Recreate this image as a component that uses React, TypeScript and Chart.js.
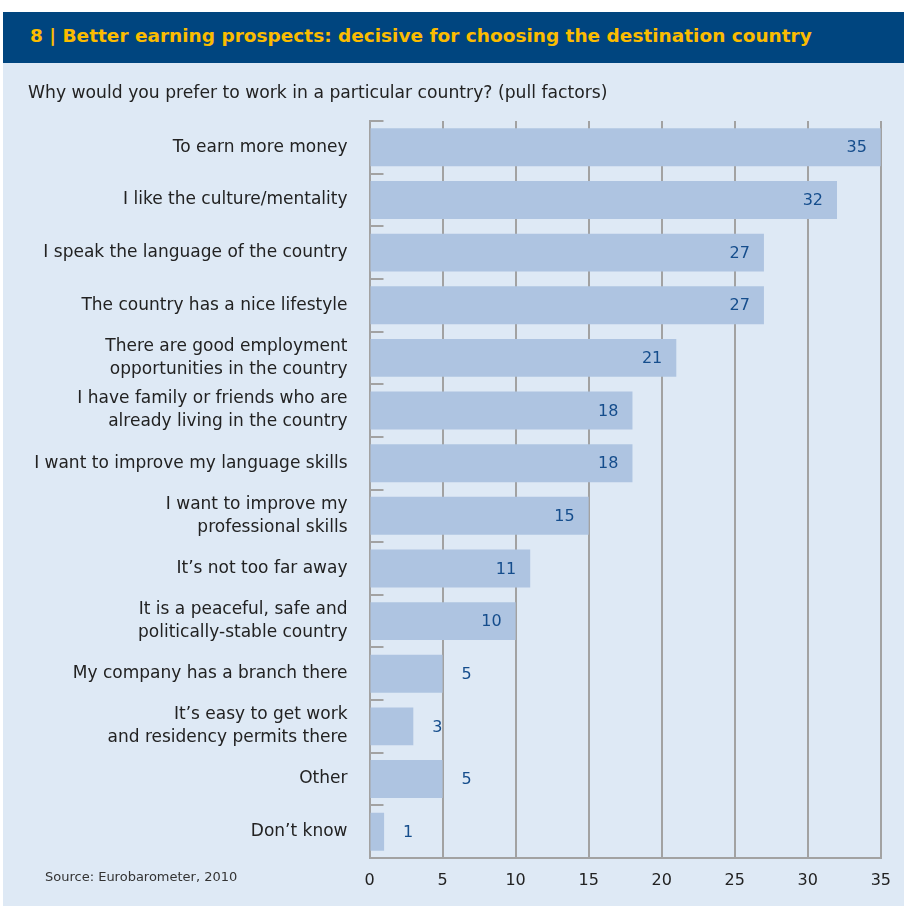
import React, { useEffect, useRef } from "react";
import { Chart, registerables } from "chart.js";

Chart.register(...registerables);

const categories: (string | string[])[] = [
  "To earn more money",
  "I like the culture/mentality",
  "I speak the language of the country",
  "The country has a nice lifestyle",
  ["There are good employment", "opportunities in the country"],
  ["I have family or friends who are", "already living in the country"],
  "I want to improve my language skills",
  ["I want to improve my", "professional skills"],
  "It’s not too far away",
  ["It is a peaceful, safe and", "politically-stable country"],
  "My company has a branch there",
  ["It’s easy to get work", "and residency permits there"],
  "Other",
  "Don’t know",
];

const values: number[] = [35, 32, 27, 27, 21, 18, 18, 15, 11, 10, 5, 3, 5, 1];

const xTicks: number[] = [0, 5, 10, 15, 20, 25, 30, 35];

const titleText = "8 | Better earning prospects: decisive for choosing the destination country";
const subtitleText = "Why would you prefer to work in a particular country? (pull factors)";
const sourceText = "Source: Eurobarometer, 2010";

const BG = "#dee9f5";
const BAR = "#aec4e1";
const GRID = "#a2a2a2";
const LABEL_BLUE = "#154d8c";
const FONT = "'DejaVu Sans', Verdana, sans-serif";

const tickMarksPlugin = {
  id: "tickMarks",
  afterDraw(chart: any) {
    const { ctx, chartArea } = chart;
    const n = categories.length;
    const step = (chartArea.bottom - chartArea.top) / n;
    ctx.save();
    ctx.strokeStyle = GRID;
    ctx.lineWidth = 2;
    for (let i = 0; i < n; i++) {
      const y = Math.round(chartArea.top + i * step);
      ctx.beginPath();
      ctx.moveTo(chartArea.left, y);
      ctx.lineTo(chartArea.left + 14, y);
      ctx.stroke();
    }
    ctx.restore();
  },
};

const valueLabelPlugin = {
  id: "valueLabels",
  afterDatasetsDraw(chart: any) {
    const { ctx } = chart;
    const meta = chart.getDatasetMeta(0);
    ctx.save();
    ctx.font = `16px ${FONT}`;
    ctx.fillStyle = LABEL_BLUE;
    ctx.textBaseline = "middle";
    meta.data.forEach((bar: any, i: number) => {
      const v = values[i];
      if (v >= 10) {
        ctx.textAlign = "right";
        ctx.fillText(String(v), bar.x - 14, bar.y + 1);
      } else {
        ctx.textAlign = "center";
        ctx.fillText(String(v), bar.x + 24, bar.y + 1);
      }
    });
    ctx.restore();
  },
};

export default function App() {
  const ref = useRef<HTMLCanvasElement>(null);

  useEffect(() => {
    if (!ref.current) return;
    const chart = new Chart(ref.current, {
      type: "bar",
      data: {
        labels: categories,
        datasets: [
          {
            data: values,
            backgroundColor: BAR,
            borderWidth: 0,
            categoryPercentage: 1,
            barPercentage: 0.72,
          },
        ],
      },
      options: {
        indexAxis: "y",
        animation: false,
        responsive: false,
        layout: { padding: { left: 0, top: 58, right: 22.5, bottom: 0 } },
        plugins: {
          legend: { display: false },
          tooltip: { enabled: false },
          title: { display: false },
        },
        scales: {
          x: {
            min: 0,
            max: 35,
            afterBuildTicks(scale: any) {
              scale.ticks = xTicks.map((v) => ({ value: v }));
            },
            afterFit(scale: any) {
              scale.height = 48;
            },
            grid: {
              color: GRID,
              lineWidth: 2,
              drawTicks: false,
            },
            border: { display: true, color: GRID, width: 2 },
            ticks: {
              padding: 13,
              color: "#222",
              font: { family: FONT, size: 16 },
              maxRotation: 0,
            },
          },
          y: {
            afterFit(scale: any) {
              scale.width = 366.5;
            },
            grid: { display: false, drawTicks: false },
            border: { display: true, color: GRID, width: 2 },
            ticks: {
              padding: 22,
              color: "#222",
              font: { family: FONT, size: 17, lineHeight: 1.35 },
              autoSkip: false,
            },
          },
        },
      },
      plugins: [tickMarksPlugin, valueLabelPlugin],
    });
    return () => chart.destroy();
  }, []);

  return (
    <div
      style={{
        position: "absolute",
        left: 0,
        top: 0,
        width: 904,
        height: 906,
        background: "#fff",
        overflow: "hidden",
      }}
    >
      <div
        style={{
          position: "absolute",
          left: 3,
          top: 12,
          width: 901,
          height: 51,
          background: "#00457f",
          color: "#fbbc00",
          fontFamily: "'DejaVu Sans', sans-serif",
          fontWeight: "bold",
          fontSize: 18.5,
          lineHeight: "47px",
          paddingLeft: 27,
          boxSizing: "border-box",
          whiteSpace: "nowrap",
        }}
      >
        {titleText}
      </div>
      <div
        style={{
          position: "absolute",
          left: 3,
          top: 63,
          width: 901,
          height: 843,
          background: BG,
        }}
      >
        <canvas ref={ref} width={901} height={843} style={{ display: "block", width: 901, height: 843 }} />
        <div
          style={{
            position: "absolute",
            left: 25,
            top: 19,
            fontFamily: FONT,
            fontSize: 17.2,
            color: "#222",
            whiteSpace: "nowrap",
          }}
        >
          {subtitleText}
        </div>
        <div
          style={{
            position: "absolute",
            left: 42,
            top: 806,
            fontFamily: FONT,
            fontSize: 13,
            color: "#333",
            whiteSpace: "nowrap",
          }}
        >
          {sourceText}
        </div>
      </div>
    </div>
  );
}
